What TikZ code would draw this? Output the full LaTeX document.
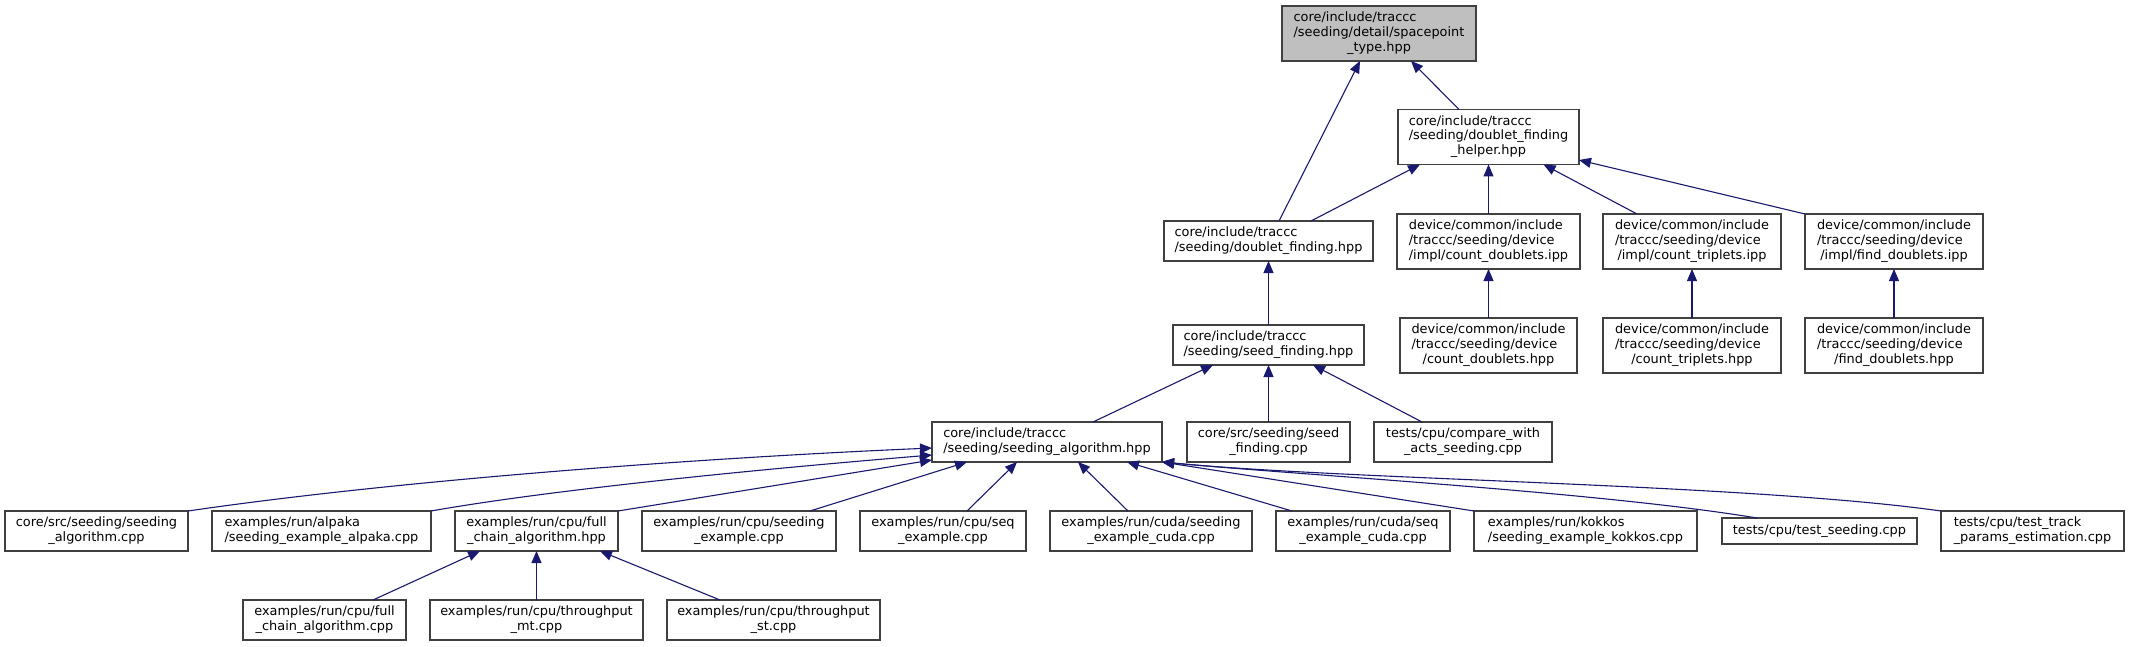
\documentclass[tikz,border=0pt]{standalone}
\usepackage{fontspec}
\setmainfont{DejaVu Sans}
\usetikzlibrary{arrows.meta}
\definecolor{edgec}{HTML}{191970}
\definecolor{boxc}{HTML}{404040}
\definecolor{rootfill}{HTML}{BFBFBF}
\newcommand\dlabel[1]{\begin{tabular}{@{}l@{}}#1\end{tabular}}
\newcommand\dlast[1]{\multicolumn{1}{@{}c@{}}{#1}}
\begin{document}
\begin{tikzpicture}[x=1pt,y=-1pt,
  box/.style={draw=boxc, line width=1.1pt, fill=white, inner sep=0pt, outer sep=0pt,
    font=\fontsize{12.9}{14.7}\selectfont, anchor=center},
  box3/.style={box, minimum height=55pt},
  box2/.style={box, minimum height=40pt},
  edge/.style={draw=edgec, line width=1.1pt, {Triangle[length=12pt,width=10pt]}-}]
\useasboundingbox (0,0) rectangle (2129,647);
% row 0
\node[box3, fill=rootfill, minimum width=194pt] (sp) at (1379,33.5)
  {\dlabel{core/include/traccc\\/seeding/detail/spacepoint\\\dlast{\_type.hpp}}};
% row 1
\node[box3, minimum width=181pt] (helper) at (1488.5,137)
  {\dlabel{core/include/traccc\\/seeding/doublet\_finding\\\dlast{\_helper.hpp}}};
% row 2
\node[box2, minimum width=209pt] (dfind) at (1268.5,241)
  {\dlabel{core/include/traccc\\/seeding/doublet\_finding.hpp}};
\node[box3, minimum width=183pt] (cdi) at (1488.5,241.5)
  {\dlabel{device/common/include\\/traccc/seeding/device\\\dlast{/impl/count\_doublets.ipp}}};
\node[box3, minimum width=178pt] (cti) at (1692,241.5)
  {\dlabel{device/common/include\\/traccc/seeding/device\\\dlast{/impl/count\_triplets.ipp}}};
\node[box3, minimum width=178pt] (fdi) at (1894,241.5)
  {\dlabel{device/common/include\\/traccc/seeding/device\\\dlast{/impl/find\_doublets.ipp}}};
% row 3
\node[box2, minimum width=191pt] (sfh) at (1268.5,345)
  {\dlabel{core/include/traccc\\/seeding/seed\_finding.hpp}};
\node[box3, minimum width=177pt] (cdh) at (1488.5,345.5)
  {\dlabel{device/common/include\\/traccc/seeding/device\\\dlast{/count\_doublets.hpp}}};
\node[box3, minimum width=178pt] (cth) at (1692,345.5)
  {\dlabel{device/common/include\\/traccc/seeding/device\\\dlast{/count\_triplets.hpp}}};
\node[box3, minimum width=178pt] (fdh) at (1894,345.5)
  {\dlabel{device/common/include\\/traccc/seeding/device\\\dlast{/find\_doublets.hpp}}};
% row 4
\node[box2, minimum width=230pt] (sa) at (1047,442)
  {\dlabel{core/include/traccc\\/seeding/seeding\_algorithm.hpp}};
\node[box2, minimum width=163pt] (sfc) at (1268.5,442)
  {\dlabel{core/src/seeding/seed\\\dlast{\_finding.cpp}}};
\node[box2, minimum width=178pt] (cmp) at (1463,442)
  {\dlabel{tests/cpu/compare\_with\\\dlast{\_acts\_seeding.cpp}}};
% row 5
\node[box2, minimum width=183pt] (sac) at (96.5,531)
  {\dlabel{core/src/seeding/seeding\\\dlast{\_algorithm.cpp}}};
\node[box2, minimum width=219pt] (alp) at (321.5,531)
  {\dlabel{examples/run/alpaka\\\dlast{/seeding\_example\_alpaka.cpp}}};
\node[box2, minimum width=163pt] (fch) at (536.5,531)
  {\dlabel{examples/run/cpu/full\\\dlast{\_chain\_algorithm.hpp}}};
\node[box2, minimum width=194pt] (sec) at (739,531)
  {\dlabel{examples/run/cpu/seeding\\\dlast{\_example.cpp}}};
\node[box2, minimum width=166pt] (sqe) at (943,531)
  {\dlabel{examples/run/cpu/seq\\\dlast{\_example.cpp}}};
\node[box2, minimum width=202pt] (sce) at (1151,531)
  {\dlabel{examples/run/cuda/seeding\\\dlast{\_example\_cuda.cpp}}};
\node[box2, minimum width=174pt] (sqc) at (1363,531)
  {\dlabel{examples/run/cuda/seq\\\dlast{\_example\_cuda.cpp}}};
\node[box2, minimum width=223pt] (kok) at (1585.5,531)
  {\dlabel{examples/run/kokkos\\\dlast{/seeding\_example\_kokkos.cpp}}};
\node[box, minimum width=195pt, minimum height=26pt] (tse) at (1819.5,531)
  {tests/cpu/test\_seeding.cpp};
\node[box2, minimum width=183pt] (ttr) at (2032.5,531)
  {\dlabel{tests/cpu/test\_track\\\dlast{\_params\_estimation.cpp}}};
% row 6
\node[box2, minimum width=163pt] (fcc) at (324.5,620)
  {\dlabel{examples/run/cpu/full\\\dlast{\_chain\_algorithm.cpp}}};
\node[box2, minimum width=213pt] (tmt) at (536.5,620)
  {\dlabel{examples/run/cpu/throughput\\\dlast{\_mt.cpp}}};
\node[box2, minimum width=213pt] (tst) at (773.5,620)
  {\dlabel{examples/run/cpu/throughput\\\dlast{\_st.cpp}}};
% edges
\draw[edge] ([xshift=-19pt]sp.south) -- ([xshift=10.5pt]dfind.north);
\draw[edge] ([xshift=32pt]sp.south) -- ([xshift=-29.5pt]helper.north);
\draw[edge] ([xshift=-68.5pt]helper.south) -- ([xshift=42.5pt]dfind.north);
\draw[edge] (helper.south) -- (cdi.north);
\draw[edge] ([xshift=55pt]helper.south) -- ([xshift=-55pt]cti.north);
\draw[edge] ([yshift=-23pt]helper.east) -- (fdi.north west);
\draw[edge] (cdi.south) -- (cdh.north);
\draw[edge] (cti.south) -- (cth.north);
\draw[edge] (fdi.south) -- (fdh.north);
\draw[edge] (dfind.south) -- (sfh.north);
\draw[edge] ([xshift=-55.5pt]sfh.south) -- ([xshift=46pt]sa.north);
\draw[edge] (sfh.south) -- (sfc.north);
\draw[edge] ([xshift=44.5pt]sfh.south) -- ([xshift=-41pt]cmp.north);
\draw[edge] ([yshift=-6pt]sa.west) .. controls (700,458) and (400,480) .. (sac.north east);
\draw[edge] ([yshift=-13pt]sa.west) .. controls (750,470) and (550,490) .. (alp.north east);
\draw[edge] ([yshift=-18pt]sa.west) -- (fch.north east);
\draw[edge] ([xshift=-80pt]sa.south) -- ([xshift=71pt]sec.north);
\draw[edge] ([xshift=-30pt]sa.south) -- ([xshift=24pt]sqe.north);
\draw[edge] ([xshift=31pt]sa.south) -- ([xshift=-23pt]sce.north);
\draw[edge] ([xshift=80pt]sa.south) -- ([xshift=-71pt]sqc.north);
\draw[edge] (sa.south east) -- (kok.north west);
\draw[edge] (sa.south east) .. controls (1300,475) and (1600,492) .. ([xshift=-62.5pt]tse.north);
\draw[edge] (sa.south east) .. controls (1350,480) and (1750,484) .. (ttr.north west);
\draw[edge] ([xshift=-56.5pt]fch.south) -- ([xshift=48.5pt]fcc.north);
\draw[edge] (fch.south) -- (tmt.north);
\draw[edge] ([xshift=63.5pt]fch.south) -- ([xshift=-53.5pt]tst.north);
\end{tikzpicture}
\end{document}
